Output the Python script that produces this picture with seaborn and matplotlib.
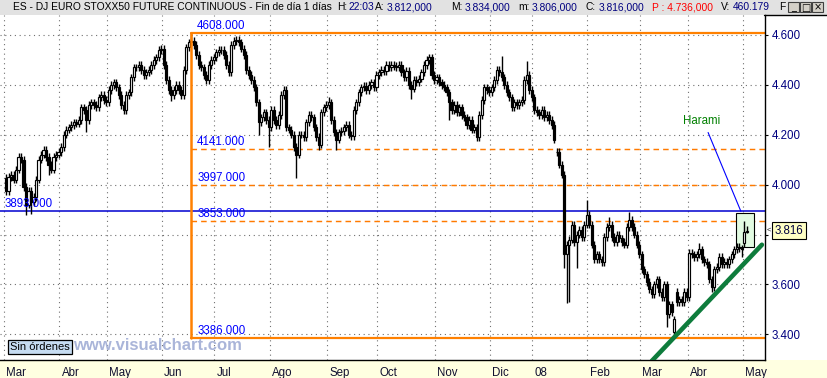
import matplotlib
matplotlib.use("Agg")
import numpy as np
import pandas as pd
import matplotlib.pyplot as plt
import matplotlib.transforms as mtransforms
from matplotlib.patches import Rectangle
from matplotlib.lines import Line2D
import seaborn as sns

# ---------------- data ----------------
month_labels = ["Mar", "Abr", "May", "Jun", "Jul", "Ago", "Sep", "Oct",
                "Nov", "Dic", "08", "Feb", "Mar", "Abr", "May"]

closes_2007_03 = [3975, 4030, 4040, 4020, 4060, 4110, 4100, 3990, 3920, 3975, 3930,
                  3950, 4020, 4100, 4120, 4140, 4110, 4080, 4060, 4110, 4120, 4130]
closes_2007_04 = [4150, 4200, 4220, 4230, 4240, 4250, 4245, 4260, 4310, 4300, 4260,
                  4320, 4330, 4320, 4310, 4350, 4360, 4340, 4330]
closes_2007_05 = [4380, 4400, 4410, 4390, 4360, 4320, 4300, 4360, 4370, 4430, 4470,
                  4470, 4480, 4460, 4440, 4450, 4460, 4480, 4500, 4510, 4540, 4545]
closes_2007_06 = [4480, 4420, 4380, 4360, 4380, 4400, 4380, 4360, 4460, 4550, 4570,
                  4575, 4560, 4520, 4480, 4470, 4440, 4420, 4480, 4500, 4510]
closes_2007_07 = [4530, 4540, 4540, 4520, 4480, 4450, 4560, 4575, 4580, 4570, 4545,
                  4520, 4460, 4440, 4420, 4390, 4330, 4250, 4270, 4290, 4260, 4230]
closes_2007_08 = [4300, 4260, 4240, 4280, 4360, 4380, 4230, 4220, 4200, 4150, 4120,
                  4200, 4200, 4190, 4250, 4280, 4270, 4230, 4190, 4160, 4290, 4310, 4320]
closes_2007_09 = [4330, 4260, 4210, 4180, 4210, 4215, 4230, 4240, 4200, 4195, 4300,
                  4330, 4370, 4390, 4395, 4380, 4400, 4410, 4390, 4440]
closes_2007_10 = [4450, 4460, 4455, 4480, 4470, 4480, 4475, 4470, 4480, 4450, 4430,
                  4455, 4400, 4385, 4420, 4410, 4425, 4450, 4480, 4500, 4510, 4440, 4420]
closes_2007_11 = [4430, 4410, 4400, 4390, 4370, 4330, 4300, 4320, 4290, 4310, 4280,
                  4270, 4240, 4260, 4220, 4230, 4190, 4280, 4340, 4390, 4380, 4370]
closes_2007_12 = [4390, 4420, 4460, 4450, 4430, 4400, 4370, 4350, 4310, 4330, 4320,
                  4330, 4340, 4420, 4440, 4380, 4350]
closes_2008_01 = [4300, 4290, 4280, 4300, 4270, 4280, 4260, 4240, 4180, 4130, 4080,
                  4040, 3720, 3760, 3780, 3840, 3770, 3800, 3820, 3790, 3840, 3880]
closes_2008_02 = [3840, 3760, 3700, 3720, 3700, 3690, 3790, 3830, 3840, 3790, 3770,
                  3800, 3785, 3770, 3760, 3830, 3860, 3830, 3800, 3760, 3720]
closes_2008_03 = [3660, 3640, 3610, 3580, 3560, 3600, 3620, 3570, 3550, 3600, 3480,
                  3520, 3490, 3460, 3530, 3540, 3530, 3570, 3550]
closes_2008_04 = [3725, 3720, 3710, 3720, 3740, 3700, 3690, 3680, 3620, 3590, 3660,
                  3670, 3710, 3680, 3690, 3680, 3700, 3720, 3740, 3750, 3745, 3740]
closes_2008_05 = [3810, 3816]

monthly_closes = [closes_2007_03, closes_2007_04, closes_2007_05, closes_2007_06,
                  closes_2007_07, closes_2007_08, closes_2007_09, closes_2007_10,
                  closes_2007_11, closes_2007_12, closes_2008_01, closes_2008_02,
                  closes_2008_03, closes_2008_04, closes_2008_05]

first_open = 4026
open_overrides = {220: 4132, 267: 3410, 268: 3570, 295: 3765, 296: 3812}
high_overrides = {74: 4608, 111: 4395, 129: 4350, 146: 4425, 169: 4525, 198: 4516,
                  208: 4496, 232: 3938, 241: 3870, 249: 3890, 277: 3766, 295: 3855,
                  296: 3834}
low_overrides = {8: 3878, 10: 3883, 17: 4038, 32: 4210, 47: 4285, 66: 4337, 80: 4405,
                 101: 4197, 105: 4150, 116: 4026, 125: 4140, 132: 4140, 162: 4345,
                 177: 4260, 223: 3667, 224: 3527, 225: 3530, 228: 3667, 264: 3428,
                 267: 3386, 282: 3570, 294: 3710, 296: 3806}
wick_size = 15

price_ticks = [3400, 3600, 3800, 4000, 4200, 4400, 4600]
fib_top, fib_bottom = 4608, 3386
fib_levels = [4141, 3997, 3853]
fib_start_bar = 74
support_price = 3893
trend_bars = [258.0, 302.0]
trend_prices = [3293, 3759]
harami_bars = [291.6, 298.8]
harami_prices = [3751, 3886]
pointer_bars = [280.5, 293.6]
pointer_prices = [4209, 3893]
harami_label_pos = (278.1, 4257)
last_price = 3816

# ---------------- build OHLC table ----------------
closes = [c for m in monthly_closes for c in m]
n = len(closes)
df = pd.DataFrame({"bar": np.arange(n), "close": closes}, dtype=float)
df["open"] = df["close"].shift(1).fillna(first_open)
for k, v in open_overrides.items():
    df.loc[k, "open"] = v
df["high"] = df[["open", "close"]].max(axis=1) + wick_size
df["low"] = df[["open", "close"]].min(axis=1) - wick_size
for k, v in high_overrides.items():
    df.loc[k, "high"] = v
for k, v in low_overrides.items():
    df.loc[k, "low"] = v
month_start = np.cumsum([0] + [len(m) for m in monthly_closes[:-1]])

# ---------------- figure ----------------
sns.set_style("white")
plt.rcParams["font.family"] = ["Liberation Sans", "DejaVu Sans"]

W, H = 828, 378
fig = plt.figure(figsize=(W / 100, H / 100), dpi=100)
fig.patch.set_facecolor("white")

# title bar & bottom band
fig.patches.append(Rectangle((0, 1 - 15 / H), 1, 15 / H, transform=fig.transFigure,
                             facecolor="#e2e2e2", edgecolor="none", zorder=-1))
fig.patches.append(Rectangle((0, 0), 1, 18 / H, transform=fig.transFigure,
                             facecolor="#ffffe1", edgecolor="none", zorder=-1))

ax = fig.add_axes([0, 18 / H, 765 / W, 345 / H])
px_per_bar, x0 = 2.503, 6.0
ax.set_xlim((0 - x0) / px_per_bar, (765 - x0) / px_per_bar)
ax.set_ylim(3297, 4680)
ax.set_facecolor("white")

for s in ["top", "left"]:
    ax.spines[s].set_visible(False)
for s in ["right", "bottom"]:
    ax.spines[s].set_color("black")
    ax.spines[s].set_linewidth(1.0)

ax.set_xticks(month_start - 0.7)
ax.set_yticks(price_ticks)
ax.set_axisbelow(True)
ax.grid(True, color="#707070", linestyle=(0, (1, 3.3)), linewidth=0.8)
ax.tick_params(axis="x", direction="out", length=7.2, width=0.8, color="black",
               labelbottom=False)
ax.yaxis.tick_right()
ax.tick_params(axis="y", direction="out", length=2.5, width=0.8, pad=2.5,
               labelsize=8.3, labelcolor="#000080", color="black")
ax.set_yticklabels([f"{p / 1000:.3f}" for p in price_ticks])

# month labels
trans_xfig = mtransforms.blended_transform_factory(ax.transData, fig.transFigure)
for s, lab in zip(month_start, month_labels):
    ax.annotate(lab, xy=(s - 0.7, 1 - 373 / H), xycoords=trans_xfig,
                xytext=(1.6, 0), textcoords="offset points", ha="left", va="center",
                fontsize=8.3, color="#101030", annotation_clip=False)

# Fibonacci retracement (orange)
orange = "#ff8000"
xmax = ax.get_xlim()[1]
ax.plot([fib_start_bar, xmax], [fib_top, fib_top], color=orange, lw=1.6, zorder=2)
ax.plot([fib_start_bar, xmax], [fib_bottom, fib_bottom], color=orange, lw=1.6, zorder=2)
for lvl in fib_levels:
    ax.add_line(Line2D([fib_start_bar, xmax], [lvl, lvl], color="#ff7a00",
                       linewidth=1.05, linestyle=(0, (3.8, 2.8)), zorder=2.2))
for lvl in [fib_top] + fib_levels + [fib_bottom]:
    ax.annotate(f"{lvl:.3f}", xy=(fib_start_bar, lvl), xytext=(4.3, 2.9),
                textcoords="offset points", ha="left", va="baseline", fontsize=8.3,
                color="#0000ff", zorder=7)

# support line (blue)
sns.lineplot(x=list(ax.get_xlim()), y=[support_price, support_price], ax=ax,
             color="#0000d0", linewidth=1.1, legend=False, zorder=2)
ax.annotate(f"{support_price:.3f}", xy=(ax.get_xlim()[0], support_price),
            xytext=(3.6, 2.9), textcoords="offset points", ha="left",
            va="baseline", fontsize=8.3, color="#0000ff", zorder=7)

# Harami box
ax.add_patch(Rectangle((harami_bars[0], harami_prices[0]),
                       harami_bars[1] - harami_bars[0],
                       harami_prices[1] - harami_prices[0],
                       facecolor="#e2fbe2", edgecolor="black", lw=0.8, zorder=2.6))

# candles
up = df["close"] >= df["open"]
ax.vlines(df["bar"], df["low"], df["high"], color="black", lw=1.0, zorder=3)
body_low = df[["open", "close"]].min(axis=1)
body_h = (df["close"] - df["open"]).abs()
ax.bar(df["bar"], body_h, bottom=body_low, width=0.85,
       color=np.where(up, "white", "black"), edgecolor="black", linewidth=0.85,
       zorder=4)

# fib vertical line on top
ax.plot([fib_start_bar, fib_start_bar], [fib_bottom, fib_top], color=orange, lw=1.8,
        zorder=5)

# trend line (green)
sns.lineplot(x=trend_bars, y=trend_prices, ax=ax, color="#0e7c3c", linewidth=3.3,
             legend=False, zorder=6)

# Harami annotation
sns.lineplot(x=pointer_bars, y=pointer_prices, ax=ax, color="#0000ff", linewidth=0.8,
             legend=False, zorder=6)
ax.text(harami_label_pos[0], harami_label_pos[1], "Harami", color="#008000",
        fontsize=8.3, ha="center", va="center", zorder=7)

# last price tag
trans_axy = mtransforms.blended_transform_factory(ax.transAxes, ax.transData)
ax.annotate(f"{last_price / 1000:.3f}", xy=(1, last_price), xycoords=trans_axy,
            xytext=(6.9, 0), textcoords="offset points", ha="left", va="center",
            fontsize=8.3, color="#000040", annotation_clip=False, zorder=10,
            bbox=dict(boxstyle="square,pad=0.2", facecolor="#ffffc4",
                      edgecolor="black", lw=0.8))
ax.annotate("<", xy=(1, last_price), xycoords=trans_axy, xytext=(1.2, 0),
            textcoords="offset points", ha="left", va="center", fontsize=5.5,
            color="#202020", annotation_clip=False, zorder=10)

# right box top border
fig.add_artist(Line2D([764 / W, 1], [1 - 15 / H, 1 - 15 / H], color="black", lw=1.0,
                      transform=fig.transFigure))

# title bar texts
ty = 1 - 7 / H
title_parts = [
    (13, "ES - DJ EURO STOXX50 FUTURE CONTINUOUS - Fin de día 1 días", "black"),
    (337, "H:", "black"), (349, "22:03", "#000080"),
    (375, "A:", "black"), (387, "3.812,000", "#000080"),
    (451, "M:", "black"), (465, "3.834,000", "#000080"),
    (518, "m:", "black"), (532, "3.806,000", "#000080"),
    (586, "C:", "black"), (599, "3.816,000", "#000080"),
    (652, "P : 4.736,000", "#ff0000"),
    (721, "V:", "black"), (733, "460.179", "#000080"),
    (779, "F", "black"),
]
for xp, txt, col in title_parts:
    fig.text(xp / W, ty, txt, color=col, fontsize=7.4, ha="left", va="center")

# window buttons
for i, glyph in enumerate(["_", "□", "×"]):
    bx = 788 + i * 12
    fig.patches.append(Rectangle((bx / W, 1 - 12 / H), 11 / W, 10 / H,
                                 transform=fig.transFigure, facecolor="#d4d0c8",
                                 edgecolor="#404040", lw=0.8))
    fig.text((bx + 5.5) / W, 1 - 7.5 / H, glyph, fontsize=7, ha="center",
             va="center", color="black", family=["DejaVu Sans"])

# bottom-left labels
fig.text(10 / W, 1 - 347 / H, "Sin órdenes", fontsize=8, color="black", ha="left",
         va="center", bbox=dict(boxstyle="square,pad=0.22", facecolor="#c6dcf2",
                                edgecolor="black", lw=0.9))
fig.text(73 / W, 1 - 345 / H, "www.visualchart.com", fontsize=12, fontweight="bold",
         color="#aab5d9", ha="left", va="center")

fig.savefig("out.png", dpi=100, facecolor="white")
